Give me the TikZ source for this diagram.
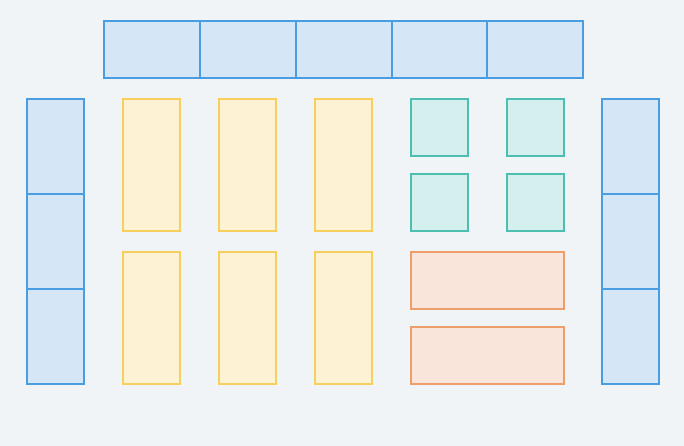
\documentclass[tikz,border=0pt]{standalone}
\definecolor{bg}{HTML}{F0F4F7}
\definecolor{bfill}{HTML}{D5E6F6}
\definecolor{bline}{HTML}{4A9DE0}
\definecolor{yfill}{HTML}{FDF2D4}
\definecolor{yline}{HTML}{F6CF5C}
\definecolor{tfill}{HTML}{D3EFEE}
\definecolor{tline}{HTML}{4CBFB0}
\definecolor{ofill}{HTML}{F9E5DA}
\definecolor{oline}{HTML}{EE9E68}
\begin{document}
\begin{tikzpicture}[x=1pt,y=-1pt,
  cell/.style={rectangle,draw,line width=1.3pt,inner sep=0pt,outer sep=0pt},
  bluebox/.style={cell,fill=bfill,draw=bline},
  yellowbox/.style={cell,fill=yfill,draw=yline,minimum width=57pt,minimum height=132pt},
  tealbox/.style={cell,fill=tfill,draw=tline,minimum width=57pt,minimum height=57pt},
  orangebox/.style={cell,fill=ofill,draw=oline,minimum width=153pt,minimum height=57pt}]
\fill[bg] (0,0) rectangle (684,446);
\useasboundingbox (0,0) rectangle (684,446);
% top row
\foreach \n/\x/\w in {t1/152/96,t2/248/96,t3/344/96,t4/439.5/95,t5/535/96}
  \node[bluebox,minimum width=\w pt,minimum height=57pt] (\n) at (\x,49.5) {};
% left and right columns
\foreach \n/\y in {1/146.5,2/241.5,3/336.5}{
  \node[bluebox,minimum width=57pt,minimum height=95pt] (l\n) at (55.5,\y) {};
  \node[bluebox,minimum width=57pt,minimum height=95pt] (r\n) at (630.5,\y) {};
}
% yellow
\node[yellowbox] (y1) at (151.5,165) {};
\node[yellowbox] (y2) at (247.5,165) {};
\node[yellowbox] (y3) at (343.5,165) {};
\node[yellowbox] (y4) at (151.5,318) {};
\node[yellowbox] (y5) at (247.5,318) {};
\node[yellowbox] (y6) at (343.5,318) {};
% teal
\node[tealbox] (c1) at (439.5,127.5) {};
\node[tealbox] (c2) at (535.5,127.5) {};
\node[tealbox] (c3) at (439.5,202.5) {};
\node[tealbox] (c4) at (535.5,202.5) {};
% orange
\node[orangebox] (o1) at (487.5,280.5) {};
\node[orangebox] (o2) at (487.5,355.5) {};
\end{tikzpicture}
\end{document}
